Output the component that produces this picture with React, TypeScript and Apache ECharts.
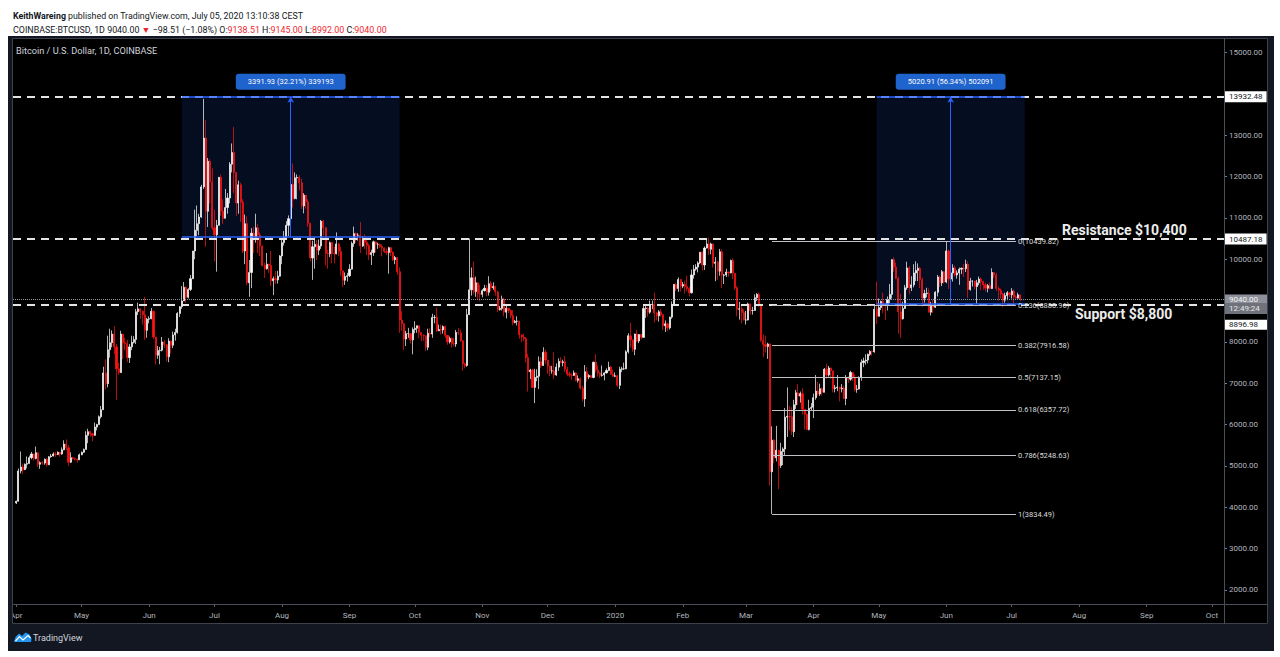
import React, { useEffect, useRef } from "react";
import * as echarts from "echarts";

// Daily candles, [open, high, low, close], Coinbase BTC/USD
const apr19 = [
  [4105, 4160, 4080, 4145], [4145, 4940, 4140, 4880], [4880, 5350, 4820, 4975], [4975, 5060, 4800, 4910],
  [4910, 5060, 4900, 5040], [5040, 5230, 4940, 5060], [5060, 5250, 5060, 5200], [5200, 5340, 5160, 5290],
  [5290, 5290, 5130, 5180], [5180, 5470, 5160, 5320], [5320, 5330, 4970, 5040], [5040, 5110, 4930, 5080],
  [5080, 5120, 5030, 5070], [5070, 5180, 5030, 5160], [5160, 5190, 4980, 5030], [5030, 5240, 5020, 5220],
  [5220, 5290, 5200, 5240], [5240, 5330, 5230, 5290], [5290, 5340, 5220, 5280], [5280, 5350, 5260, 5330],
  [5330, 5340, 5220, 5290], [5290, 5450, 5270, 5390], [5390, 5620, 5380, 5530], [5530, 5640, 5380, 5440],
  [5440, 5500, 5000, 5090], [5090, 5330, 5070, 5200], [5200, 5220, 5150, 5180], [5180, 5200, 5130, 5160],
  [5160, 5180, 5080, 5150], [5150, 5300, 5140, 5270],
];
const may19 = [
  [5270, 5350, 5260, 5330], [5330, 5420, 5320, 5400], [5400, 5840, 5400, 5740], [5740, 5900, 5550, 5830],
  [5830, 5850, 5700, 5780], [5780, 5800, 5600, 5740], [5740, 6050, 5730, 5940], [5940, 6020, 5860, 6000],
  [6000, 6220, 6000, 6190], [6190, 6450, 6150, 6360], [6360, 7400, 6360, 7250], [7250, 7580, 6850, 6990],
  [6990, 8150, 6900, 7810], [7810, 8320, 7620, 7980], [7980, 8280, 7870, 8190], [8190, 8380, 7700, 7880],
  [7880, 7950, 6600, 7350], [7350, 7500, 7200, 7260], [7260, 8270, 7250, 8190], [8190, 8190, 7580, 7980],
  [7980, 8100, 7800, 7960], [7960, 8050, 7510, 7620], [7620, 7950, 7490, 7880], [7880, 8150, 7800, 7990],
  [7990, 8140, 7960, 8060], [8060, 8800, 7950, 8730], [8730, 8950, 8650, 8800], [8800, 8810, 8560, 8740],
  [8740, 8760, 8420, 8660], [8660, 9090, 8050, 8280], [8280, 8580, 8100, 8550],
];
const jun19 = [
  [8550, 8620, 8450, 8560], [8560, 8820, 8550, 8740], [8740, 8760, 8070, 8120], [8120, 8120, 7450, 7680],
  [7680, 7900, 7590, 7790], [7790, 7880, 7460, 7800], [7800, 8120, 7770, 8000], [8000, 8050, 7850, 7930],
  [7930, 7950, 7530, 7640], [7640, 8090, 7510, 8020], [8020, 8030, 7720, 7920], [7920, 8250, 7850, 8170],
  [8170, 8320, 8030, 8230], [8230, 8720, 8200, 8690], [8690, 8870, 8600, 8850], [8850, 9350, 8800, 8990],
  [8990, 9450, 8990, 9320], [9320, 9350, 8950, 9080], [9080, 9300, 9050, 9270], [9270, 9620, 9230, 9530],
  [9530, 10200, 9520, 10200], [10200, 11200, 10000, 10700], [10700, 11300, 10550, 10860], [10860, 11100, 10580, 11020],
  [11020, 11800, 11000, 11750], [11750, 13880, 11700, 12930], [12930, 13370, 10300, 11160], [11160, 12450, 10780, 12370],
  [12370, 12420, 11350, 11870], [11870, 12200, 10700, 10760],
];
const jul19 = [
  [10760, 11200, 9950, 10590], [10590, 10950, 9700, 10820], [10820, 11990, 10820, 11980], [11980, 12050, 11050, 11160],
  [11160, 11450, 10850, 10990], [10990, 11700, 10990, 11250], [11250, 11600, 11100, 11480], [11480, 12350, 11350, 12300],
  [12300, 12800, 12100, 12580], [12580, 13200, 11600, 12100], [12100, 12100, 11050, 11360], [11360, 11900, 11100, 11800],
  [11800, 11850, 10900, 11380], [11380, 11450, 10150, 10200], [10200, 11080, 9880, 10860], [10860, 11040, 9370, 9430],
  [9430, 9980, 9090, 9680], [9680, 10750, 9300, 10630], [10630, 10780, 10150, 10530], [10530, 11100, 10400, 10760],
  [10760, 10850, 10150, 10590], [10590, 10650, 10080, 10320], [10320, 10330, 9820, 9850], [9850, 9920, 9550, 9770],
  [9770, 10150, 9750, 9880], [9880, 9890, 9670, 9850], [9850, 10200, 9350, 9480], [9480, 9580, 9130, 9530],
  [9530, 9720, 9400, 9500], [9500, 9720, 9410, 9590], [9590, 10100, 9580, 10080],
];
const aug19 = [
  [10080, 10470, 9880, 10400], [10400, 10680, 10330, 10530], [10530, 10920, 10500, 10820], [10820, 11060, 10560, 10980],
  [10980, 11900, 10980, 11810], [11810, 12320, 11250, 11470], [11470, 12100, 11450, 11970], [11970, 12050, 11450, 11980],
  [11980, 12030, 11660, 11850], [11850, 11950, 11220, 11290], [11290, 11600, 11110, 11550], [11550, 11550, 11220, 11390],
  [11390, 11450, 10780, 10870], [10870, 10880, 9950, 10030], [10030, 10450, 9500, 10300], [10300, 10530, 9770, 10360],
  [10360, 10470, 9980, 10220], [10220, 10480, 10100, 10320], [10320, 10950, 10250, 10920], [10920, 10950, 10570, 10760],
  [10760, 10780, 9850, 10140], [10140, 10230, 9770, 10130], [10130, 10430, 10050, 10400], [10400, 10420, 9900, 10140],
  [10140, 10300, 9900, 10130], [10130, 10650, 10120, 10370], [10370, 10390, 10070, 10190], [10190, 10300, 9600, 9720],
  [9720, 9720, 9330, 9490], [9490, 9680, 9380, 9580], [9580, 9670, 9460, 9600],
];
const sep19 = [
  [9600, 9880, 9570, 9760], [9760, 10430, 9750, 10380], [10380, 10790, 10300, 10620], [10620, 10650, 10400, 10580],
  [10580, 10630, 10450, 10580], [10580, 10900, 10150, 10320], [10320, 10560, 10300, 10490], [10490, 10600, 10250, 10410],
  [10410, 10480, 10100, 10330], [10330, 10380, 9980, 10110], [10110, 10230, 9860, 10160], [10160, 10450, 10080, 10420],
  [10420, 10440, 10160, 10360], [10360, 10400, 10250, 10360], [10360, 10380, 10270, 10310], [10310, 10360, 10070, 10270],
  [10270, 10290, 10150, 10190], [10190, 10260, 10100, 10160], [10160, 10300, 9650, 10280], [10280, 10290, 10080, 10170],
  [10170, 10190, 9960, 9990], [9990, 10080, 9880, 10040], [10040, 10050, 9620, 9700], [9700, 9800, 8220, 8530],
  [8530, 8740, 8270, 8440], [8440, 8460, 7800, 8070], [8070, 8270, 7900, 8200], [8200, 8340, 8100, 8200],
  [8200, 8220, 7960, 8050], [8050, 8350, 7700, 8300],
];
const oct19 = [
  [8300, 8500, 8210, 8330], [8330, 8400, 8220, 8390], [8390, 8400, 8090, 8230], [8230, 8240, 8020, 8160],
  [8160, 8180, 8030, 8150], [8150, 8150, 7780, 7870], [7870, 8320, 7800, 8210], [8210, 8330, 8120, 8190],
  [8190, 8680, 8100, 8590], [8590, 8650, 8450, 8590], [8590, 8830, 8240, 8270], [8270, 8420, 8260, 8300],
  [8300, 8420, 8180, 8290], [8290, 8400, 8200, 8370], [8370, 8400, 8090, 8160], [8160, 8160, 7930, 8000],
  [8000, 8130, 7960, 8080], [8080, 8110, 7860, 7960], [7960, 8100, 7890, 7950], [7950, 8290, 7880, 8230],
  [8230, 8340, 8170, 8220], [8220, 8300, 8000, 8030], [8030, 8040, 7300, 7470], [7470, 7500, 7360, 7430],
  [7430, 8800, 7400, 8660], [8660, 10500, 8650, 9260], [9260, 9800, 9120, 9550], [9550, 9950, 9150, 9220],
  [9220, 9580, 9090, 9430], [9430, 9440, 9020, 9170], [9170, 9380, 8990, 9150],
];
const nov19 = [
  [9150, 9280, 9080, 9240], [9240, 9380, 9220, 9300], [9300, 9380, 9100, 9200], [9200, 9590, 9120, 9410],
  [9410, 9470, 9230, 9310], [9310, 9440, 9260, 9340], [9340, 9360, 9120, 9210], [9210, 9240, 8720, 8780],
  [8780, 8870, 8760, 8810], [8810, 9120, 8760, 9040], [9040, 9070, 8620, 8720], [8720, 8880, 8570, 8810],
  [8810, 8820, 8700, 8760], [8760, 8790, 8570, 8640], [8640, 8770, 8400, 8470], [8470, 8530, 8450, 8500],
  [8500, 8620, 8400, 8500], [8500, 8510, 8080, 8170], [8170, 8180, 8000, 8120], [8120, 8200, 8020, 8080],
  [8080, 8120, 7500, 7620], [7620, 7710, 6800, 7280], [7280, 7350, 7100, 7320], [7320, 7350, 6880, 6900],
  [6900, 7350, 6520, 7140], [7140, 7340, 7050, 7170], [7170, 7650, 6860, 7520], [7520, 7630, 7370, 7430],
  [7430, 7870, 7420, 7750], [7750, 7810, 7460, 7560],
];
const dec19 = [
  [7560, 7560, 7230, 7420], [7420, 7430, 7170, 7300], [7300, 7420, 7230, 7300], [7300, 7750, 7100, 7200],
  [7200, 7480, 7180, 7390], [7390, 7600, 7300, 7530], [7530, 7630, 7480, 7500], [7500, 7570, 7410, 7520],
  [7520, 7660, 7270, 7340], [7340, 7400, 7170, 7220], [7220, 7280, 7150, 7200], [7200, 7250, 7080, 7190],
  [7190, 7310, 7180, 7250], [7250, 7270, 7050, 7070], [7070, 7190, 7020, 7110], [7110, 7140, 6850, 6880],
  [6880, 6940, 6560, 6620], [6620, 7440, 6430, 7280], [7280, 7390, 7040, 7150], [7150, 7220, 7100, 7190],
  [7190, 7190, 7120, 7140], [7140, 7520, 7120, 7510], [7510, 7700, 7260, 7320], [7320, 7430, 7160, 7250],
  [7250, 7270, 7120, 7190], [7190, 7430, 7160, 7200], [7200, 7270, 7070, 7250], [7250, 7360, 7240, 7310],
  [7310, 7520, 7290, 7390], [7390, 7420, 7200, 7220], [7220, 7330, 7150, 7170],
];
const jan20 = [
  [7170, 7260, 7150, 7180], [7180, 7200, 6920, 6950], [6950, 7400, 6860, 7340], [7340, 7400, 7270, 7350],
  [7350, 7500, 7320, 7350], [7350, 7800, 7340, 7760], [7760, 8210, 7720, 8150], [8150, 8460, 7870, 8050],
  [8050, 8050, 7760, 7820], [7820, 8200, 7680, 8190], [8190, 8290, 7990, 8020], [8020, 8190, 7970, 8180],
  [8180, 8190, 8060, 8110], [8110, 8880, 8100, 8810], [8810, 8900, 8580, 8820], [8820, 8850, 8610, 8720],
  [8720, 9000, 8680, 8900], [8900, 9000, 8790, 8910], [8910, 9190, 8470, 8700], [8700, 8730, 8520, 8630],
  [8630, 8770, 8490, 8730], [8730, 8800, 8610, 8660], [8660, 8670, 8290, 8390], [8390, 8520, 8240, 8440],
  [8440, 8450, 8260, 8340], [8340, 8610, 8300, 8600], [8600, 8980, 8560, 8900], [8900, 9400, 8870, 9390],
  [9390, 9430, 9230, 9290], [9290, 9560, 9210, 9510], [9510, 9520, 9220, 9350],
];
const feb20 = [
  [9350, 9450, 9300, 9390], [9390, 9480, 9170, 9340], [9340, 9600, 9230, 9290], [9290, 9330, 9100, 9190],
  [9190, 9750, 9170, 9620], [9620, 9860, 9530, 9760], [9760, 9880, 9720, 9810], [9810, 9950, 9680, 9910],
  [9910, 10170, 9880, 10170], [10170, 10190, 9730, 9860], [9860, 10310, 9740, 10270], [10270, 10480, 10260, 10370],
  [10370, 10520, 10100, 10240], [10240, 10400, 10120, 10370], [10370, 10380, 9800, 9900], [9900, 10050, 9470, 9930],
  [9930, 9960, 9500, 9710], [9710, 10250, 9600, 10180], [10180, 10240, 9300, 9610], [9610, 9640, 9400, 9620],
  [9620, 9770, 9570, 9690], [9690, 9700, 9580, 9670], [9670, 9990, 9660, 9970], [9970, 10020, 9520, 9660],
  [9660, 9660, 9260, 9310], [9310, 9350, 8620, 8790], [8790, 8970, 8540, 8800], [8800, 8900, 8450, 8710],
  [8710, 8790, 8520, 8530],
];
const mar20 = [
  [8530, 8750, 8420, 8530], [8530, 8950, 8520, 8920], [8920, 8920, 8660, 8760], [8760, 8850, 8660, 8760],
  [8760, 9150, 8760, 9070], [9070, 9180, 8990, 9150], [9150, 9200, 8850, 8900], [8900, 8900, 8000, 8040],
  [8040, 8180, 7630, 7940], [7940, 8150, 7740, 7890], [7890, 7980, 7590, 7950], [7950, 7970, 4530, 4860],
  [4860, 5960, 3834.49, 5620], [5620, 5650, 5070, 5200], [5200, 5970, 5110, 5380], [5380, 5380, 4440, 5010],
  [5010, 5560, 4950, 5350], [5350, 5450, 5020, 5410], [5410, 6400, 5260, 6180], [6180, 6900, 5700, 6200],
  [6200, 6450, 5850, 6190], [6190, 6420, 5750, 5830], [5830, 6600, 5700, 6480], [6480, 6840, 6380, 6770],
  [6770, 6980, 6480, 6690], [6690, 6800, 6530, 6750], [6750, 6880, 6250, 6370], [6370, 6370, 5880, 6250],
  [6250, 6270, 5870, 5880], [5880, 6600, 5860, 6390], [6390, 6520, 6350, 6420],
];
const apr20 = [
  [6420, 6750, 6160, 6650], [6650, 7200, 6600, 6810], [6810, 7030, 6700, 6740], [6740, 6990, 6690, 6870],
  [6870, 6900, 6700, 6780], [6780, 7370, 6780, 7340], [7340, 7470, 7100, 7200], [7200, 7420, 7160, 7370],
  [7370, 7380, 7110, 7300], [7300, 7300, 6780, 6870], [6870, 6960, 6780, 6890], [6890, 7200, 6810, 6910],
  [6910, 6910, 6560, 6860], [6860, 6980, 6780, 6880], [6880, 6940, 6620, 6630], [6630, 7200, 6470, 7120],
  [7120, 7170, 7010, 7100], [7100, 7300, 7060, 7260], [7260, 7260, 7060, 7130], [7130, 7220, 6800, 6850],
  [6850, 6960, 6770, 6860], [6860, 7170, 6850, 7140], [7140, 7580, 7060, 7500], [7500, 7620, 7390, 7540],
  [7540, 7700, 7450, 7560], [7560, 7720, 7480, 7700], [7700, 7800, 7660, 7770], [7770, 7790, 7670, 7760],
  [7760, 8900, 7740, 8790], [8790, 9460, 8430, 8620],
];
const may20 = [
  [8620, 9050, 8620, 8830], [8830, 9000, 8770, 8980], [8980, 9190, 8700, 8900], [8900, 8950, 8530, 8890],
  [8890, 9100, 8760, 9030], [9030, 9400, 8940, 9150], [9150, 10000, 9050, 9990], [9990, 10050, 9700, 9810],
  [9810, 9920, 9520, 9540], [9540, 9580, 8200, 8730], [8730, 9160, 8100, 8560], [8560, 8970, 8540, 8810],
  [8810, 9380, 8800, 9310], [9310, 9940, 9260, 9790], [9790, 9840, 9150, 9310], [9310, 9590, 9230, 9380],
  [9380, 9880, 9320, 9670], [9670, 9950, 9470, 9730], [9730, 9900, 9470, 9780], [9780, 9820, 9300, 9510],
  [9510, 9560, 8850, 9060], [9060, 9260, 8950, 9170], [9170, 9310, 9080, 9180], [9180, 9290, 8710, 8720],
  [8720, 8970, 8640, 8900], [8900, 9020, 8700, 8840], [8840, 9230, 8820, 9200], [9200, 9620, 9100, 9570],
  [9570, 9600, 9330, 9430], [9430, 9740, 9350, 9700], [9700, 9700, 9410, 9450],
];
const jun20 = [
  [9450, 10439.82, 9420, 10200], [10200, 10230, 9280, 9520], [9520, 9690, 9400, 9670], [9670, 9880, 9460, 9790],
  [9790, 9850, 9580, 9620], [9620, 9730, 9530, 9670], [9670, 9800, 9380, 9760], [9760, 9800, 9640, 9780],
  [9780, 9880, 9570, 9770], [9770, 9990, 9690, 9880], [9880, 9950, 9060, 9270], [9270, 9550, 9240, 9470],
  [9470, 9490, 9340, 9470], [9470, 9480, 9270, 9340], [9340, 9500, 8920, 9430], [9430, 9580, 9370, 9520],
  [9520, 9560, 9250, 9460], [9460, 9480, 9260, 9380], [9380, 9430, 9220, 9300], [9300, 9400, 9200, 9360],
  [9360, 9440, 9270, 9290], [9290, 9780, 9280, 9680], [9680, 9690, 9540, 9620], [9620, 9670, 9230, 9290],
  [9290, 9340, 9000, 9250], [9250, 9290, 9050, 9160], [9160, 9190, 8840, 9010], [9010, 9190, 8950, 9120],
  [9120, 9230, 9010, 9190], [9190, 9200, 9080, 9140],
];
const jul20 = [
  [9140, 9300, 9050, 9230], [9230, 9270, 8940, 9090], [9090, 9130, 9040, 9060], [9060, 9190, 9050, 9138.51],
  [9138.51, 9145, 8992, 9040],
];

const ohlc = [
  ...apr19, ...may19, ...jun19, ...jul19, ...aug19, ...sep19, ...oct19, ...nov19, ...dec19,
  ...jan20, ...feb20, ...mar20, ...apr20, ...may20, ...jun20, ...jul20,
];

const FIRST_DAY = "2019-03-31"; // empty slot before the first candle
const LAST_DAY = "2020-10-06"; // right edge of the time scale
const MONTHS = ["Jan", "Feb", "Mar", "Apr", "May", "Jun", "Jul", "Aug", "Sep", "Oct", "Nov", "Dec"];
const Y_TICKS = [2000, 3000, 4000, 5000, 6000, 7000, 8000, 10000, 11000, 12000, 13000, 15000];
const Y_MIN = 1661;
const Y_MAX = 15351;

const HIGH_LINE = 13932.48;
const RESISTANCE_LINE = 10487.18;
const SUPPORT_LINE = 8896.98;
const LAST_PRICE = 9040.0;
const COUNTDOWN = "12:49:24";

const FIB_LEVELS = [0, 0.236, 0.382, 0.5, 0.618, 0.786, 1];
const FIB_PRICES = [10439.82, 8880.96, 7916.58, 7137.15, 6357.72, 5248.63, 3834.49];
const FIB_START = "2020-03-13";
const FIB_END = "2020-07-03";

const RANGE_FROM = ["2019-06-16", "2020-04-30"];
const RANGE_TO = ["2019-09-24", "2020-07-07"];
const RANGE_MID = ["2019-08-05", "2020-06-03"];
const RANGE_LOW = [10540.55, 8911.57];
const RANGE_HIGH = [13932.48, 13932.48];
const RANGE_TEXT = ["3391.93 (32.21%) 339193", "5020.91 (56.34%) 502091"];

const HEADER_1 = "published on TradingView.com, July 05, 2020 13:10:38 CEST";
const AUTHOR = "KeithWareing";
const SYMBOL_TITLE = "Bitcoin / U.S. Dollar, 1D, COINBASE";

function buildDates(): string[] {
  const out: string[] = [];
  const start = Date.parse(FIRST_DAY + "T00:00:00Z");
  const end = Date.parse(LAST_DAY + "T00:00:00Z");
  for (let t = start; t <= end; t += 86400000) {
    out.push(new Date(t).toISOString().slice(0, 10));
  }
  return out;
}

const FONT = "Roboto";
const BLUE = "#2962ff";

function buildOption() {
  const dates = buildDates();
  const candles: any[] = [["-", "-", "-", "-"]];
  ohlc.forEach(([o, h, l, c]) => candles.push([o, c, l, h]));

  const dashWhite = { color: "#e4e4e4", width: 2, type: [8, 6] };
  const priceBox = (txt: string) => ({
    show: true,
    position: "end",
    distance: 1,
    formatter: txt,
    backgroundColor: "#ffffff",
    color: "#131722",
    fontSize: 8,
    fontFamily: FONT,
    lineHeight: 9,
    padding: [1, 4],
  });

  const markLines: any[] = [
    { yAxis: HIGH_LINE, lineStyle: dashWhite, label: priceBox(HIGH_LINE.toFixed(2)) },
    { yAxis: RESISTANCE_LINE, lineStyle: dashWhite, label: priceBox(RESISTANCE_LINE.toFixed(2)) },
    {
      yAxis: SUPPORT_LINE,
      lineStyle: dashWhite,
      label: {
        show: true,
        position: "end",
        distance: 1,
        formatter: `{s| }\n{v|${SUPPORT_LINE.toFixed(2)}}`,
        rich: {
          s: { height: 40, fontSize: 8 },
          v: {
            backgroundColor: "#ffffff", color: "#131722", fontSize: 8, fontFamily: FONT,
            lineHeight: 9, padding: [1, 4], width: 35,
          },
        },
      },
    },
    {
      yAxis: LAST_PRICE,
      lineStyle: { color: "#8f939c", width: 1, type: "dotted" },
      label: {
        show: true,
        position: "end",
        distance: 1,
        formatter: `{s| }\n{a|${LAST_PRICE.toFixed(2)}}\n{b|${COUNTDOWN}}`,
        rich: {
          s: { height: 10, fontSize: 8 },
          a: {
            backgroundColor: "#8d9099", color: "#f4f4f4", fontSize: 8, fontFamily: FONT,
            lineHeight: 9, padding: [1, 4], width: 35,
          },
          b: {
            backgroundColor: "#6f727b", color: "#e8e8e8", fontSize: 8, fontFamily: FONT,
            lineHeight: 9, padding: [2, 4, 1, 4], width: 35,
          },
        },
      },
    },
  ];

  FIB_PRICES.forEach((p, i) => {
    markLines.push([
      {
        coord: [FIB_START, p],
        lineStyle: { color: "#bfc1c6", width: 1, type: "solid" },
        label: {
          show: true,
          position: "end",
          distance: 2,
          formatter: `${FIB_LEVELS[i]}(${p.toFixed(2)})`,
          color: "#dcdcdc",
          fontSize: 7.5,
          fontFamily: FONT,
          padding: [0, 0, 8, 0],
        },
      },
      { coord: [FIB_END, p] },
    ]);
  });

  RANGE_TEXT.forEach((_, i) => {
    markLines.push([
      { coord: [RANGE_FROM[i], RANGE_LOW[i]], lineStyle: { color: BLUE, width: 1.5, type: "solid" } },
      { coord: [RANGE_TO[i], RANGE_LOW[i]] },
    ]);
    markLines.push([
      { coord: [RANGE_FROM[i], RANGE_HIGH[i]], lineStyle: { color: BLUE, width: 1.5, type: "solid" } },
      { coord: [RANGE_TO[i], RANGE_HIGH[i]] },
    ]);
    markLines.push([
      { coord: [RANGE_MID[i], RANGE_LOW[i]], lineStyle: { color: BLUE, width: 1, type: "solid" } },
      { coord: [RANGE_MID[i], RANGE_HIGH[i]], symbol: "arrow", symbolSize: [5, 6] },
    ]);
  });

  const markAreas = RANGE_TEXT.map((t, i) => [
    { name: t, xAxis: RANGE_FROM[i], yAxis: RANGE_HIGH[i] },
    { xAxis: RANGE_TO[i], yAxis: RANGE_LOW[i] },
  ]);

  const isMonthStart = (_i: number, v: string) => v.slice(8, 10) === "01";

  return {
    animation: false,
    backgroundColor: "transparent",
    textStyle: { fontFamily: FONT },
    grid: { left: 13, right: 56, top: 38, bottom: 53 },
    xAxis: {
      type: "category",
      data: dates,
      boundaryGap: true,
      axisLine: { show: false },
      axisTick: {
        show: true,
        alignWithLabel: true,
        interval: isMonthStart,
        length: 3,
        lineStyle: { color: "#5d606b" },
      },
      axisLabel: {
        interval: isMonthStart,
        margin: 7,
        color: "#b2b5be",
        fontSize: 8,
        fontFamily: FONT,
        formatter: (v: string) => {
          const m = Number(v.slice(5, 7));
          return m === 1 ? v.slice(0, 4) : MONTHS[m - 1];
        },
      },
      splitLine: { show: false },
    },
    yAxis: {
      type: "value",
      position: "right",
      min: Y_MIN,
      max: Y_MAX,
      scale: true,
      axisLine: { show: false },
      splitLine: { show: false },
      axisTick: {
        show: true,
        length: 3,
        customValues: Y_TICKS,
        lineStyle: { color: "#787b86" },
      },
      axisLabel: {
        customValues: Y_TICKS,
        margin: 5,
        color: "#b2b5be",
        fontSize: 8,
        fontFamily: FONT,
        formatter: (v: number) => v.toFixed(2),
      },
    },
    series: [
      {
        type: "candlestick",
        name: "BTCUSD",
        data: candles,
        barWidth: 1.6,
        clip: false,
        itemStyle: {
          color: "#ffffff",
          color0: "#ff1414",
          borderColor: "#ffffff",
          borderColor0: "#ff1414",
          borderWidth: 0.7,
        },
        markArea: {
          silent: true,
          itemStyle: { color: "rgba(30,90,200,0.16)" },
          label: {
            show: true,
            position: "top",
            distance: 7,
            color: "#ffffff",
            fontSize: 7.5,
            fontFamily: FONT,
            backgroundColor: "#1f63cc",
            padding: [4, 12],
            borderRadius: 3,
          },
          data: markAreas,
        },
        markLine: {
          silent: true,
          symbol: ["none", "none"],
          label: { show: false },
          data: markLines,
        },
      },
    ],
    graphic: [
      {
        type: "text",
        x: 13,
        y: 16,
        style: {
          text: `{b|${AUTHOR}} ${HEADER_1}`,
          fill: "#131722",
          fontSize: 8.8,
          fontFamily: FONT,
          textVerticalAlign: "middle",
          rich: { b: { fontWeight: "bold", fontSize: 8.8, fontFamily: FONT, fill: "#131722" } },
        },
      },
      {
        type: "text",
        x: 13,
        y: 29.5,
        style: {
          text:
            "COINBASE:BTCUSD, 1D 9040.00 {r|▼} −98.51 (−1.08%) O:{r|9138.51} H:{r|9145.00} L:{r|8992.00} C:{r|9040.00}",
          fill: "#131722",
          fontSize: 8.9,
          fontFamily: FONT,
          textVerticalAlign: "middle",
          rich: { r: { fill: "#ef1f2f", fontSize: 8.9, fontFamily: FONT } },
        },
      },
      {
        type: "text",
        x: 16,
        y: 50,
        style: {
          text: SYMBOL_TITLE,
          fill: "#d1d4dc",
          fontSize: 9.2,
          fontFamily: FONT,
          textVerticalAlign: "middle",
        },
      },
      {
        type: "text",
        x: 1062,
        y: 230,
        style: {
          text: "Resistance $10,400",
          fill: "#ececec",
          fontSize: 14,
          fontWeight: "bold",
          fontFamily: FONT,
          textVerticalAlign: "middle",
        },
      },
      {
        type: "text",
        x: 1075,
        y: 314,
        style: {
          text: "Support $8,800",
          fill: "#ececec",
          fontSize: 14,
          fontWeight: "bold",
          fontFamily: FONT,
          textVerticalAlign: "middle",
        },
      },
      // frame pieces
      {
        type: "rect",
        z: 99,
        shape: { x: 8, y: 605, width: 4.5, height: 18 },
        style: { fill: "#131722" },
      },
      {
        type: "rect",
        z: 100,
        shape: { x: 12.5, y: 38.5, width: 1255, height: 585 },
        style: { fill: "none", stroke: "#3d414b", lineWidth: 1 },
      },
      {
        type: "line",
        z: 100,
        shape: { x1: 1224.5, y1: 38, x2: 1224.5, y2: 624 },
        style: { stroke: "#4a4e58", lineWidth: 1 },
      },
      {
        type: "line",
        z: 100,
        shape: { x1: 13, y1: 604.5, x2: 1268, y2: 604.5 },
        style: { stroke: "#4a4e58", lineWidth: 1 },
      },
      // TradingView logo
      {
        type: "polygon",
        shape: {
          points: [[14, 642], [15.5, 637], [19, 633.5], [22, 636], [25.5, 632.5], [29.5, 634.5], [31.5, 638.5], [31, 642]],
        },
        style: { fill: "#2196f3" },
      },
      {
        type: "polyline",
        shape: { points: [[15.5, 641], [19.5, 636.5], [23, 640], [28, 635.5], [30.5, 638]] },
        style: { stroke: "#ffffff", lineWidth: 1.2, fill: "none" },
      },
      {
        type: "text",
        x: 33,
        y: 637.5,
        style: {
          text: "TradingView",
          fill: "#d1d4dc",
          fontSize: 9,
          fontFamily: FONT,
          textVerticalAlign: "middle",
        },
      },
    ],
  };
}

export default function App() {
  const ref = useRef<HTMLDivElement>(null);
  useEffect(() => {
    if (!ref.current) return;
    const chart = echarts.init(ref.current, null, { renderer: "svg" });
    chart.setOption(buildOption() as any);
    return () => chart.dispose();
  }, []);
  return (
    <div
      style={{
        position: "fixed",
        left: 0,
        top: 0,
        width: 1280,
        height: 657,
        background: "#ffffff",
        overflow: "hidden",
      }}
    >
      <div style={{ position: "absolute", left: 8, top: 36, width: 1266, height: 615, background: "#131722" }} />
      <div style={{ position: "absolute", left: 13, top: 38, width: 1255, height: 586, background: "#000000" }} />
      <div ref={ref} style={{ position: "absolute", left: 0, top: 0, width: 1280, height: 657 }} />
    </div>
  );
}
